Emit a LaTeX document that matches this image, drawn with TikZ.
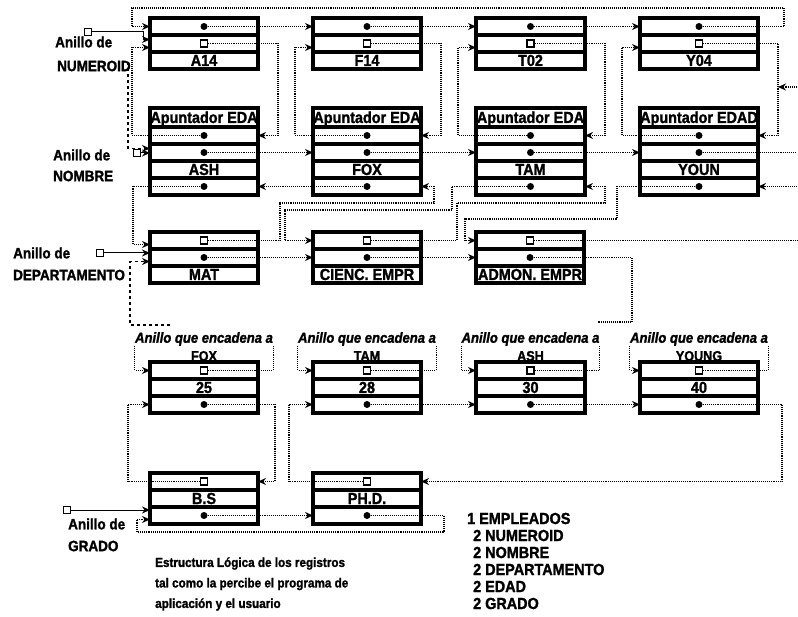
\documentclass[tikz,border=0pt]{standalone}
\usepackage{fontspec}
\setmainfont{Liberation Sans}[FakeStretch=0.9,
  BoldFeatures={FakeBold=1.5}, BoldItalicFeatures={FakeBold=1.5}]
\usetikzlibrary{positioning, arrows.meta}

\tikzset{
  fila/.style={draw, line width=3.4pt, minimum width=108, minimum height=17,
    inner sep=0pt, outer sep=0pt, text height=11pt, text depth=0pt,
    font=\bfseries\fontsize{16}{16}\selectfont},
  punto/.style={circle, fill, inner sep=0pt, minimum size=7pt},
  cuadro/.style={draw, line width=1.5pt, fill=white, inner sep=0pt, minimum size=7pt},
  linea/.style={densely dotted, line width=1.1pt},
  enlace/.style={linea, ->},
  guion/.style={dashed, line width=1.1pt},
  entra/.style={line width=1pt, ->},
  etiqueta/.style={anchor=west, inner sep=0pt, font=\bfseries\fontsize{15}{15}\selectfont}
}

\begin{document}
\begin{tikzpicture}[
    x=1pt, y=-1pt,
    >={Stealth[length=8pt, width=7pt]}
]
\useasboundingbox (0,0) rectangle (798,617);
\coordinate (borde) at (797,0);

% anillo de NUMEROID
\foreach \i/\x/\w/\v in {1/150/108/A14, 2/313/108/F14, 3/476/109/T02, 4/640/118/Y04} {
  \node[fila, minimum width=\w, anchor=north west] (num\i-sig) at (\x,18) {};
  \node[fila, minimum width=\w, below=0pt of num\i-sig] (num\i-nom) {};
  \node[fila, minimum width=\w, below=0pt of num\i-nom] (num\i-val) {\v};
  \node[punto] (num\i-sig-p) at (num\i-sig) {};
  \node[cuadro] (num\i-nom-p) at (num\i-nom) {};
}

% anillo de NOMBRE
\foreach \i/\x/\w/\h/\v in {1/150/108/Apuntador EDA/ASH, 2/313/108/Apuntador EDA/FOX,
    3/476/109/Apuntador EDA/TAM, 4/640/118/Apuntador EDAD/YOUN} {
  \node[fila, minimum width=\w, minimum height=19, anchor=north west] (nom\i-tit) at (\x,108) {\h};
  \node[fila, minimum width=\w, below=0pt of nom\i-tit] (nom\i-num) {};
  \node[fila, minimum width=\w, below=0pt of nom\i-num] (nom\i-sig) {};
  \node[fila, minimum width=\w, below=0pt of nom\i-sig] (nom\i-val) {\v};
  \node[fila, minimum width=\w, below=0pt of nom\i-val] (nom\i-dep) {};
  \node[punto] (nom\i-num-p) at (nom\i-num) {};
  \node[punto] (nom\i-sig-p) at (nom\i-sig) {};
  \node[punto] (nom\i-dep-p) at (nom\i-dep) {};
}

% anillo de DEPARTAMENTO
\foreach \i/\x/\v in {1/150/MAT, 2/313/CIENC. EMPR, 3/476/ADMON. EMPR} {
  \node[fila, anchor=north west] (dep\i-emp) at (\x,232) {};
  \node[fila, below=0pt of dep\i-emp] (dep\i-sig) {};
  \node[fila, below=0pt of dep\i-sig] (dep\i-val) {\v};
  \node[cuadro] (dep\i-emp-p) at (dep\i-emp) {};
  \node[punto] (dep\i-sig-p) at (dep\i-sig) {};
}

% anillo de EDAD
\foreach \i/\x/\w/\n/\v in {1/150/108/FOX/25, 2/313/108/TAM/28, 3/476/109/ASH/30, 4/640/118/YOUNG/40} {
  \node[inner sep=0pt, font=\bfseries\itshape\fontsize{14.5}{15}\selectfont] (eda\i-lab) at (\x+\w/2,339) {Anillo que encadena a};
  \node[inner sep=0pt, font=\bfseries\fontsize{14}{15}\selectfont] (eda\i-quien) at (\x+\w/2,356) {\n};
  \node[fila, minimum width=\w, anchor=north west] (eda\i-emp) at (\x,362) {};
  \node[fila, minimum width=\w, below=0pt of eda\i-emp] (eda\i-val) {\v};
  \node[fila, minimum width=\w, below=0pt of eda\i-val] (eda\i-sig) {};
  \node[cuadro] (eda\i-emp-p) at (eda\i-emp) {};
  \node[punto] (eda\i-sig-p) at (eda\i-sig) {};
}

% anillo de GRADO
\foreach \i/\x/\v in {1/150/B.S, 2/313/PH.D.} {
  \node[fila, anchor=north west] (gra\i-emp) at (\x,473) {};
  \node[fila, below=0pt of gra\i-emp] (gra\i-val) {\v};
  \node[fila, below=0pt of gra\i-val] (gra\i-sig) {};
  \node[cuadro] (gra\i-emp-p) at (gra\i-emp) {};
  \node[punto] (gra\i-sig-p) at (gra\i-sig) {};
}

% textos
\node[etiqueta] (tNum) at (55,42) {Anillo de};
\node[etiqueta] (tNum2) at (57,66) {NUMEROID};
\node[etiqueta] (tNom) at (53,155) {Anillo de};
\node[etiqueta] (tNom2) at (53,176) {NOMBRE};
\node[etiqueta] (tDep) at (13,253) {Anillo de};
\node[etiqueta] (tDep2) at (13,275) {DEPARTAMENTO};
\node[etiqueta] (tGra) at (68,524) {Anillo de};
\node[etiqueta] (tGra2) at (68,546) {GRADO};
\node[anchor=west, align=left, inner sep=0pt, font=\bfseries\fontsize{13}{20.5}\selectfont] (leyenda)
  at (155,584) {Estructura Lógica de los registros\\tal como la percibe el programa de\\aplicación y el usuario};
\node[anchor=west, align=left, inner sep=0pt, font=\bfseries\fontsize{16}{17}\selectfont] (campos)
  at (467,561) {1 EMPLEADOS\\\hspace{6pt}2 NUMEROID\\\hspace{6pt}2 NOMBRE\\\hspace{6pt}2 DEPARTAMENTO\\\hspace{6pt}2 EDAD\\\hspace{6pt}2 GRADO};

% entradas de los anillos
\node[cuadro] (eNum) at (88,32) {};
\node[cuadro] (eNom) at (137,153) {};
\node[cuadro] (eDep) at (100,253) {};
\node[cuadro] (eGra) at (67,510) {};
\draw[entra] (eNum) -- ++(55,0) |- ([yshift=4pt]num1-nom.west);
\draw[entra] (eNom) -- (eNom -| nom1-sig.west);
\draw[entra] (eDep) -- (eDep -| dep1-sig.west);
\draw[entra] (eGra) -- (eGra -| gra1-sig.west);
\coordinate (corte) at (128,62);
\draw[guion, ->] (corte) |- ([yshift=4pt]nom1-sig.west);

% NUMEROID
\foreach \i/\j in {1/2, 2/3, 3/4}
  \draw[enlace] (num\i-sig-p) -- (num\j-sig.west);
\draw[enlace] (num4-sig-p) -| (784,8) -- (132,8) |- (num1-sig.west);
\foreach \i in {1,...,4} {
  \draw[enlace] (num\i-nom-p) -| ([xshift=20pt]nom\i-num.east) -- (nom\i-num.east);
  \draw[enlace] (nom\i-num-p) -- ([xshift=-18pt]nom\i-num.west) |- ([yshift=-4pt]num\i-nom.west);
}
\coordinate (flecha) at (797,87);
\draw[enlace] (flecha) -- ++(-19,0);

% NOMBRE
\foreach \i/\j in {1/2, 2/3, 3/4}
  \draw[enlace] (nom\i-sig-p) -- (nom\j-sig.west);
\draw[linea] (nom4-sig-p) -- (nom4-sig-p -| borde);

% DEPARTAMENTO
\draw[enlace] (nom1-dep-p) -- ([xshift=-17pt]nom1-dep.west) |- ([yshift=-4pt]dep1-emp.west);
\draw[enlace] (nom2-dep-p) -- (nom1-dep.east);
\draw[enlace] (dep1-emp-p) -| (280,203) -| ([xshift=13pt]nom2-dep.east) -- (nom2-dep.east);
\draw[enlace] (nom3-dep-p) -- ([xshift=-24pt]nom3-dep.west) |- (285,210) |- (dep2-emp.west);
\draw[enlace] (dep2-emp-p) -| (457,203) -| ([xshift=20pt]nom3-dep.east) -- (nom3-dep.east);
\draw[enlace] (nom4-dep-p) -- ([xshift=-23pt]nom4-dep.west) |- (465,219) |- (dep3-emp.west);
\draw[linea] (dep3-emp-p) -- (dep3-emp-p -| borde);
\draw[enlace] (borde |- nom4-dep) -- (nom4-dep.east);
\draw[enlace] (dep1-sig-p) -- (dep2-sig.west);
\draw[enlace] (dep2-sig-p) -- (dep3-sig.west);
\draw[linea] (dep3-sig-p) -| (632,322) -- (598,322);
\coordinate (vuelta) at (170,325);
\draw[guion, ->] (vuelta) -| ([xshift=-20pt, yshift=-4pt]dep1-sig.west) -- ([yshift=-4pt]dep1-sig.west);

% EDAD
\foreach \i in {1,...,4} {
  \draw[enlace] (eda\i-lab.south west) |- (eda\i-emp.west);
  \draw[linea] (eda\i-emp-p) -| (eda\i-lab.south east);
}
\draw[enlace] (eda1-sig-p) -| ([xshift=17pt]gra1-emp.east) -- (gra1-emp.east);
\draw[enlace] (gra1-emp-p) -- ([xshift=-22pt]gra1-emp.west) |- (eda1-sig.west);
\draw[enlace] (eda2-sig-p) -- (eda3-sig.west);
\draw[enlace] (eda3-sig-p) -- (eda4-sig.west);
\draw[enlace] (eda4-sig-p) -- ([xshift=24pt]eda4-sig.east) |- (gra2-emp.east);
\draw[enlace] (gra2-emp-p) -- ([xshift=-24pt]gra2-emp.west) |- (eda2-sig.west);

% GRADO
\draw[enlace] (gra1-sig-p) -- (gra2-sig.west);
\draw[enlace] (gra2-sig-p) -- ([xshift=23pt]gra2-sig.east) |- ([xshift=-13pt, yshift=-8pt]gra1-sig.south west) |- ([yshift=-4pt]gra1-sig.west);

\end{tikzpicture}
\end{document}
